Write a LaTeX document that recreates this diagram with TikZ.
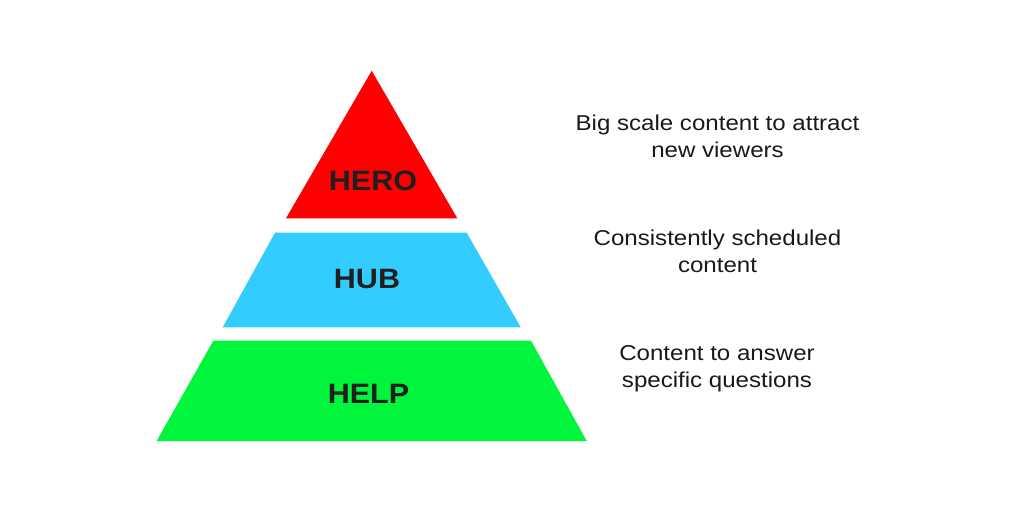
\documentclass[tikz,border=0pt]{standalone}
\usepackage{fontspec}
\setmainfont{Liberation Sans}
\newfontfamily\widelabel[FakeStretch=1.09]{Liberation Sans}
\newfontfamily\widedesc[FakeStretch=1.12]{Liberation Sans}
\definecolor{heroRed}{RGB}{255,0,0}
\definecolor{hubBlue}{RGB}{51,204,255}
\definecolor{helpGreen}{RGB}{0,245,60}
\begin{document}
\begin{tikzpicture}[x=1pt,y=-1pt,
  level/.style={font=\widelabel\fontsize{28}{30}\bfseries\selectfont, text=black!88, inner sep=0pt},
  desc/.style={font=\widedesc\fontsize{21.5}{27}\selectfont, align=center, inner sep=0pt, text=black!90}]
\fill[white] (0,0) rectangle (1024,512);
\useasboundingbox (0,0) rectangle (1024,512);
% HERO
\fill[heroRed] (371.7,70.7) -- (457.3,218.3) -- (286,218.3) -- cycle;
% HUB
\fill[hubBlue] (275,232.7) -- (466.7,232.7) -- (520.7,327.3) -- (222.7,327.3) -- cycle;
% HELP
\fill[helpGreen] (213.3,340.7) -- (531,340.7) -- (586.7,441) -- (156.7,441) -- cycle;
\node[level] (hero) at (373,180.5) {HERO};
\node[level] (hub) at (367,279) {HUB};
\node[level] (help) at (368.5,393.5) {HELP};
\node[desc, anchor=base] (d1) at (717.5,157) {Big scale content to attract\\new viewers};
\node[desc, anchor=base] (d2) at (717.5,272) {Consistently scheduled\\content};
\node[desc, anchor=base] (d3) at (717,387) {Content to answer\\specific questions};
\end{tikzpicture}
\end{document}
